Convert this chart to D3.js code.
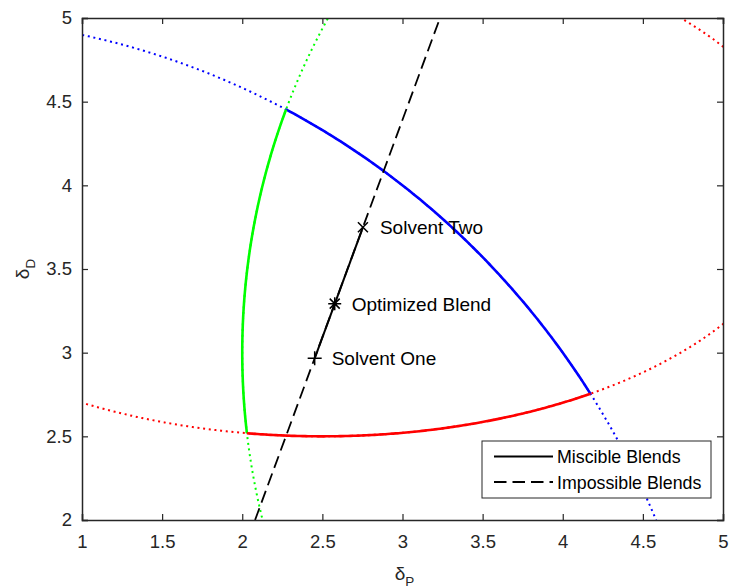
<!DOCTYPE html>
<html>
<head>
<meta charset="utf-8">
<script src="https://cdn.jsdelivr.net/npm/d3@7"></script>
<style>
  body { margin: 0; background: #fff; }
  svg { display: block; font-family: "Liberation Sans", Arial, Helvetica, sans-serif; }
  .axis text { font-size: 18.5px; fill: #262626; }
  .axis path, .axis line { stroke: #262626; }
</style>
</head>
<body>
<div id="chart"></div>
<script>
// solubility regions (dP on x, dD on y): centre and radii of each boundary
var regionColors = ["#0000ff", "#00ff00", "#ff0000"];
var regionCentreP = [0, 6, 2.5];
var regionCentreD = [0, 3, 4];
var regionRadiusP = [5, 4, 3];
var regionRadiusD = [5, 4, 1.5];

// corners where the boundaries meet
var cornerP = [2.273, 2.029, 4.173];
var cornerD = [4.453, 2.519, 2.755];
// solid part of each boundary runs between two corners
var solidFrom = [0, 0, 1];
var solidTo = [2, 1, 2];

// blend line through the two solvents
var blendLineP = [2.08, 3.234];
var blendLineD = [2, 5];

var pointNames = ["Solvent One", "Optimized Blend", "Solvent Two"];
var pointP = [2.452, 2.577, 2.753];
var pointD = [2.966, 3.293, 3.749];
var pointMarks = ["+", "*", "x"];

var xTicks = [1, 1.5, 2, 2.5, 3, 3.5, 4, 4.5, 5];
var yTicks = [2, 2.5, 3, 3.5, 4, 4.5, 5];
var legendNames = ["Miscible Blends", "Impossible Blends"];

var W = 730, H = 588;
var margin = {top: 18, right: 7, bottom: 68, left: 82};
var width = W - margin.left - margin.right;
var height = H - margin.top - margin.bottom;

var x = d3.scaleLinear().domain([1, 5]).range([0, width]);
var y = d3.scaleLinear().domain([2, 5]).range([height, 0]);

var svg = d3.select("#chart").append("svg")
  .attr("width", W)
  .attr("height", H);

svg.append("defs").append("clipPath")
  .attr("id", "plotclip")
  .append("rect")
  .attr("width", width)
  .attr("height", height);

var g = svg.append("g")
  .attr("transform", "translate(" + margin.left + "," + margin.top + ")");

var line = d3.line()
  .x(function(d) { return x(d[0]); })
  .y(function(d) { return y(d[1]); });

function angleOf(i, p, d) {
  return Math.atan2((d - regionCentreD[i]) / regionRadiusD[i], (p - regionCentreP[i]) / regionRadiusP[i]);
}

// points along boundary i from angle t0 to t1
function arcPoints(i, t0, t1) {
  var n = Math.max(20, Math.ceil(Math.abs(t1 - t0) * 180));
  return d3.range(n + 1).map(function(k) {
    var t = t0 + (t1 - t0) * k / n;
    return [regionCentreP[i] + regionRadiusP[i] * Math.cos(t),
            regionCentreD[i] + regionRadiusD[i] * Math.sin(t)];
  });
}

var plot = g.append("g").attr("clip-path", "url(#plotclip)");

// whole boundaries dotted
regionColors.forEach(function(c, i) {
  plot.append("path")
    .attr("d", line(arcPoints(i, 0, 2 * Math.PI)))
    .attr("fill", "none")
    .attr("stroke", c)
    .attr("stroke-width", 2)
    .attr("stroke-dasharray", "2,3.7");
});

// solid part between corners
regionColors.forEach(function(c, i) {
  var a = solidFrom[i], b = solidTo[i];
  var t0 = angleOf(i, cornerP[a], cornerD[a]);
  var t1 = angleOf(i, cornerP[b], cornerD[b]);
  var dt = t1 - t0;
  while (dt > Math.PI) dt -= 2 * Math.PI;
  while (dt < -Math.PI) dt += 2 * Math.PI;
  plot.append("path")
    .attr("d", line(arcPoints(i, t0, t0 + dt)))
    .attr("fill", "none")
    .attr("stroke", c)
    .attr("stroke-width", 2.6)
    .attr("stroke-linejoin", "round");
});

// impossible blends (dashed) and miscible blends (solid)
plot.append("path")
  .attr("d", line(d3.zip(blendLineP, blendLineD)))
  .attr("fill", "none")
  .attr("stroke", "#000")
  .attr("stroke-width", 1.8)
  .attr("stroke-dasharray", "12.5,6");

plot.append("path")
  .attr("d", line([[pointP[0], pointD[0]], [pointP[2], pointD[2]]]))
  .attr("fill", "none")
  .attr("stroke", "#000")
  .attr("stroke-width", 2);

// markers
function markerPath(m) {
  var s = 7, r = 5;
  var plus = "M" + (-s) + ",0H" + s + "M0," + (-s) + "V" + s;
  var cross = "M" + (-r) + "," + (-r) + "L" + r + "," + r + "M" + (-r) + "," + r + "L" + r + "," + (-r);
  if (m == "+") return plus;
  if (m == "x") return cross;
  return "M" + (-6.5) + ",0H6.5M0,-6.5V6.5" + cross; // star
}

var pts = g.selectAll(".pt")
  .data(pointNames)
  .enter()
  .append("g")
  .attr("class", "pt")
  .attr("transform", function(d, i) { return "translate(" + x(pointP[i]) + "," + y(pointD[i]) + ")"; });

pts.append("path")
  .attr("d", function(d, i) { return markerPath(pointMarks[i]); })
  .attr("fill", "none")
  .attr("stroke", "#000")
  .attr("stroke-width", 1.5);

pts.append("text")
  .attr("x", 17)
  .attr("y", 7)
  .attr("font-size", "19px")
  .attr("fill", "#000")
  .text(function(d) { return d; });

// axes, ticks inside and mirrored on top and right
var xAxis = g.append("g")
  .attr("class", "axis")
  .attr("transform", "translate(0," + height + ")")
  .call(d3.axisBottom(x).tickValues(xTicks).tickFormat(d3.format("")).tickSize(-6).tickPadding(15));

var yAxis = g.append("g")
  .attr("class", "axis")
  .call(d3.axisLeft(y).tickValues(yTicks).tickFormat(d3.format("")).tickSize(-6).tickPadding(10));

g.append("g")
  .attr("class", "axis")
  .call(d3.axisTop(x).tickValues(xTicks).tickFormat("").tickSize(-6));

g.append("g")
  .attr("class", "axis")
  .attr("transform", "translate(" + width + ",0)")
  .call(d3.axisRight(y).tickValues(yTicks).tickFormat("").tickSize(-6));

g.selectAll(".axis path").attr("stroke-width", 1.5);
g.selectAll(".axis .tick line").attr("stroke-width", 1.2);

// axis labels
var xl = svg.append("text")
  .attr("x", margin.left + width / 2 + 2)
  .attr("y", 580)
  .attr("text-anchor", "middle")
  .attr("fill", "#262626")
  .attr("font-size", "19px");
xl.append("tspan").text("δ");
xl.append("tspan").attr("dy", 6).attr("font-size", "13.5px").text("P");

var yl = svg.append("text")
  .attr("transform", "translate(29," + (margin.top + height / 2) + ") rotate(-90)")
  .attr("text-anchor", "middle")
  .attr("fill", "#262626")
  .attr("font-size", "19px");
yl.append("tspan").text("δ");
yl.append("tspan").attr("dy", 6).attr("font-size", "13.5px").text("D");

// legend
var leg = svg.append("g").attr("transform", "translate(482,441)");
leg.append("rect")
  .attr("width", 229)
  .attr("height", 57)
  .attr("fill", "#fff")
  .attr("stroke", "#262626")
  .attr("stroke-width", 1);

var rows = leg.selectAll(".row")
  .data(legendNames)
  .enter()
  .append("g")
  .attr("class", "row")
  .attr("transform", function(d, i) { return "translate(0," + (15.5 + i * 25.5) + ")"; });

rows.append("line")
  .attr("x1", 12)
  .attr("x2", 71)
  .attr("stroke", "#000")
  .attr("stroke-width", 1.8)
  .attr("stroke-dasharray", function(d, i) { return i == 0 ? null : "12.5,6"; });

rows.append("text")
  .attr("x", 75)
  .attr("y", 6.5)
  .attr("font-size", "17.8px")
  .attr("fill", "#000")
  .text(function(d) { return d; });
</script>
</body>
</html>
